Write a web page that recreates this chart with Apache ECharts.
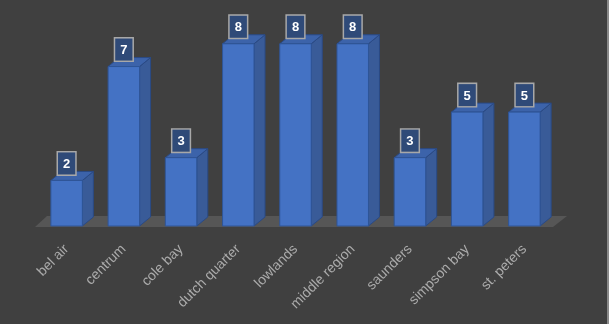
<!DOCTYPE html>
<html>
<head>
<meta charset="utf-8">
<script src="https://cdn.jsdelivr.net/npm/echarts@6/dist/echarts.min.js"></script>
<style>
html,body{margin:0;padding:0;background:#404040;}
#chart{width:609px;height:324px;}
</style>
</head>
<body>
<div id="chart"></div>
<script>
const categories = ["bel air", "centrum", "cole bay", "dutch quarter", "lowlands", "middle region", "saunders", "simpson bay", "st. peters"];
const values = [2, 7, 3, 8, 8, 8, 3, 5, 5];

const chart = echarts.init(document.getElementById('chart'));
const DX = 11, DY = 9;

function renderBar(params, api) {
  const idx = api.value(0);
  const v = api.value(1);
  const base = api.coord([idx, 0]);
  const top = api.coord([idx, v]);
  const bw = api.size([1, 0])[0] * 0.55;
  const x0 = top[0] - bw / 2, x1 = x0 + bw;
  const yt = top[1], yb = base[1];
  return {
    type: 'group',
    children: [
      { type: 'polygon', shape: { points: [[x1, yt], [x1 + DX, yt - DY], [x1 + DX, yb - DY], [x1, yb]] },
        style: { fill: '#395b98', stroke: '#2a4a85', lineWidth: 1 } },
      { type: 'polygon', shape: { points: [[x0, yt], [x0 + DX, yt - DY], [x1 + DX, yt - DY], [x1, yt]] },
        style: { fill: '#3c63aa', stroke: '#2a4a85', lineWidth: 1 } },
      { type: 'rect', shape: { x: x0, y: yt, width: bw, height: yb - yt },
        style: { fill: '#4472c4', stroke: '#2f5597', lineWidth: 1 } },
      { type: 'text', x: top[0], y: yt - 6,
        style: { text: String(v), fill: '#ffffff', font: 'bold 13px "Liberation Sans"',
          align: 'center', verticalAlign: 'bottom',
          backgroundColor: '#2f4a78', borderColor: '#a8a8a8', borderWidth: 1.5,
          padding: [5, 5, 3, 5], lineHeight: 14 } }
    ]
  };
}

function renderFloor(params, api) {
  const first = api.coord([0, 0]);
  const last = api.coord([categories.length - 1, 0]);
  const band = api.size([1, 0])[0];
  const left = first[0] - band / 2 - 3;
  const right = last[0] + band / 2;
  const y = first[1] + 1;
  return {
    type: 'polygon',
    shape: { points: [[left, y], [right, y], [right + 14, y - 11], [left + 12, y - 11]] },
    style: { fill: '#565656' }
  };
}

chart.setOption({
  backgroundColor: '#404040',
  animation: false,
  grid: { left: 38, right: 56, top: 21, bottom: 98 },
  xAxis: {
    type: 'category',
    data: categories,
    axisLine: { show: false },
    axisTick: { show: false },
    axisLabel: { rotate: 45, color: '#ababab', fontSize: 14, fontFamily: 'Liberation Sans', margin: 21 }
  },
  yAxis: { type: 'value', min: 0, max: 9, show: false },
  graphic: [
    { type: 'rect', right: 0, top: 0, shape: { width: 2, height: 324 }, style: { fill: '#8a8a8a' } }
  ],
  series: [
    { type: 'custom', renderItem: renderFloor, data: [[0]], z: 1, silent: true },
    { type: 'custom', renderItem: renderBar, data: values.map((v, i) => [i, v]), z: 2,
      encode: { x: 0, y: 1 } }
  ]
});
</script>
</body>
</html>
